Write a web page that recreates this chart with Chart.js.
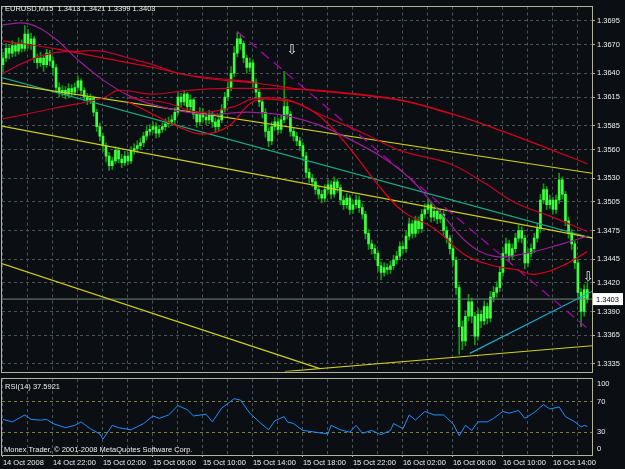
<!DOCTYPE html>
<html><head><meta charset="utf-8">
<script src="https://cdn.jsdelivr.net/npm/chart.js@4.4.0/dist/chart.umd.min.js"></script>
<style>
html,body{margin:0;padding:0;background:#0b0f13;width:625px;height:469px;overflow:hidden;font-family:"Liberation Sans",Arial,sans-serif}
#wrap{position:relative;width:625px;height:469px}
#c1{position:absolute;left:0;top:0}
#c2{position:absolute;left:0;top:378px}
.lbl{position:absolute;color:#ececec;font-size:7.5px;line-height:9px;white-space:pre}
</style></head><body>
<div id="wrap">
<canvas id="c1" width="625" height="378"></canvas>
<canvas id="c2" width="625" height="91"></canvas>
<div class="lbl" id="title" style="left:5px;top:4px"></div>
<div class="lbl" id="rsiTitle" style="left:5px;top:382px"></div>
<div class="lbl" id="copy" style="left:4px;top:445px">Monex Trader, © 2001-2008 MetaQuotes Software Corp.</div>
</div>
<script>
// ---------------- DATA ----------------
const symbol = "EURUSD,M15";
const timeLabels = ["14 Oct 2008","14 Oct 22:00","15 Oct 02:00","15 Oct 06:00","15 Oct 10:00","15 Oct 14:00","15 Oct 18:00","15 Oct 22:00","16 Oct 02:00","16 Oct 06:00","16 Oct 10:00","16 Oct 14:00"];
const priceTicks = [1.3335,1.3365,1.3390,1.3420,1.3445,1.3475,1.3505,1.3530,1.3560,1.3585,1.3615,1.3640,1.3670,1.3695];
const rsiLevels = [0,30,70,100];

const opens = [
1.3649,1.3656,1.3666,1.3661,1.3669,1.3663,1.3671,1.3666,1.3681,1.3671,
1.3676,1.3656,1.3651,1.3656,1.3649,1.3661,1.3653,1.3646,1.3625,1.3620,
1.3622,1.3618,1.3624,1.3620,1.3625,1.3632,1.3622,1.3615,1.3612,1.3614,
1.3599,1.3584,1.3574,1.3564,1.3553,1.3543,1.3548,1.3559,1.3550,1.3546,
1.3553,1.3548,1.3559,1.3561,1.3564,1.3567,1.3574,1.3579,1.3581,1.3584,
1.3577,1.3581,1.3584,1.3587,1.3589,1.3591,1.3599,1.3615,1.3610,1.3618,
1.3605,1.3612,1.3597,1.3589,1.3599,1.3594,1.3591,1.3597,1.3589,1.3584,
1.3591,1.3602,1.3615,1.3625,1.3640,1.3661,1.3676,1.3671,1.3656,1.3646,
1.3651,1.3630,1.3620,1.3610,1.3599,1.3579,1.3569,1.3584,1.3589,1.3581,
1.3591,1.3605,1.3597,1.3579,1.3574,1.3569,1.3564,1.3553,1.3536,1.3530,
1.3526,1.3518,1.3513,1.3509,1.3518,1.3523,1.3513,1.3526,1.3520,1.3507,
1.3502,1.3509,1.3497,1.3502,1.3507,1.3499,1.3492,1.3472,1.3461,1.3456,
1.3451,1.3438,1.3431,1.3436,1.3434,1.3438,1.3444,1.3448,1.3458,1.3456,
1.3469,1.3482,1.3472,1.3485,1.3477,1.3492,1.3497,1.3502,1.3489,1.3495,
1.3487,1.3492,1.3475,1.3467,1.3456,1.3444,1.3415,1.3374,1.3359,1.3385,
1.3400,1.3385,1.3364,1.3387,1.3380,1.3395,1.3383,1.3405,1.3410,1.3415,
1.3431,1.3451,1.3461,1.3448,1.3456,1.3467,1.3475,1.3467,1.3441,1.3451,
1.3456,1.3467,1.3477,1.3507,1.3518,1.3502,1.3507,1.3497,1.3507,1.3528,
1.3513,1.3485,1.3472,1.3461,1.3441,1.3410,1.3390,1.3413];
const highs = [
1.3662,1.3671,1.3670,1.3674,1.3672,1.3677,1.3675,1.3690,1.3686,1.3682,
1.3679,1.3660,1.3662,1.3659,1.3665,1.3664,1.3657,1.3649,1.3630,1.3627,
1.3626,1.3629,1.3628,1.3630,1.3637,1.3634,1.3625,1.3619,1.3618,1.3616,
1.3602,1.3588,1.3577,1.3567,1.3557,1.3552,1.3563,1.3562,1.3555,1.3558,
1.3557,1.3563,1.3566,1.3569,1.3572,1.3578,1.3584,1.3586,1.3589,1.3588,
1.3585,1.3588,1.3592,1.3594,1.3596,1.3604,1.3621,1.3619,1.3622,1.3620,
1.3617,1.3614,1.3600,1.3604,1.3603,1.3598,1.3601,1.3600,1.3593,1.3596,
1.3607,1.3620,1.3631,1.3647,1.3668,1.3683,1.3680,1.3674,1.3659,1.3656,
1.3654,1.3634,1.3624,1.3613,1.3603,1.3583,1.3589,1.3594,1.3593,1.3596,
1.3642,1.3610,1.3600,1.3583,1.3578,1.3573,1.3567,1.3557,1.3540,1.3534,
1.3529,1.3522,1.3517,1.3523,1.3528,1.3527,1.3531,1.3529,1.3523,1.3511,
1.3514,1.3512,1.3507,1.3512,1.3511,1.3503,1.3495,1.3476,1.3465,1.3460,
1.3454,1.3442,1.3441,1.3440,1.3443,1.3449,1.3453,1.3463,1.3462,1.3474,
1.3488,1.3486,1.3490,1.3489,1.3497,1.3503,1.3508,1.3505,1.3500,1.3499,
1.3497,1.3495,1.3479,1.3470,1.3459,1.3447,1.3418,1.3380,1.3391,1.3408,
1.3404,1.3389,1.3393,1.3391,1.3401,1.3399,1.3411,1.3416,1.3421,1.3437,
1.3457,1.3467,1.3465,1.3461,1.3472,1.3481,1.3479,1.3470,1.3456,1.3461,
1.3472,1.3483,1.3513,1.3524,1.3521,1.3512,1.3510,1.3512,1.3535,1.3531,
1.3516,1.3489,1.3476,1.3464,1.3444,1.3414,1.3418,1.3421];
const lows = [
1.3641,1.3652,1.3655,1.3657,1.3658,1.3660,1.3662,1.3663,1.3666,1.3665,
1.3651,1.3645,1.3647,1.3642,1.3646,1.3648,1.3638,1.3620,1.3615,1.3616,
1.3613,1.3614,1.3616,1.3617,1.3622,1.3618,1.3611,1.3607,1.3608,1.3595,
1.3579,1.3569,1.3558,1.3547,1.3538,1.3539,1.3545,1.3546,1.3541,1.3543,
1.3544,1.3545,1.3555,1.3557,1.3560,1.3563,1.3570,1.3575,1.3577,1.3572,
1.3573,1.3578,1.3580,1.3583,1.3585,1.3587,1.3596,1.3605,1.3606,1.3600,
1.3601,1.3592,1.3583,1.3585,1.3589,1.3586,1.3587,1.3583,1.3578,1.3580,
1.3588,1.3599,1.3611,1.3622,1.3636,1.3657,1.3665,1.3651,1.3640,1.3642,
1.3625,1.3614,1.3605,1.3593,1.3573,1.3563,1.3565,1.3580,1.3576,1.3577,
1.3588,1.3592,1.3574,1.3569,1.3564,1.3559,1.3548,1.3530,1.3525,1.3521,
1.3513,1.3508,1.3504,1.3505,1.3514,1.3508,1.3510,1.3515,1.3502,1.3497,
1.3498,1.3492,1.3493,1.3498,1.3494,1.3487,1.3466,1.3455,1.3450,1.3445,
1.3432,1.3423,1.3427,1.3429,1.3430,1.3434,1.3440,1.3445,1.3451,1.3452,
1.3465,1.3467,1.3468,1.3472,1.3473,1.3488,1.3493,1.3484,1.3485,1.3482,
1.3483,1.3470,1.3462,1.3450,1.3438,1.3408,1.3345,1.3350,1.3354,1.3380,
1.3378,1.3355,1.3360,1.3373,1.3376,1.3377,1.3379,1.3400,1.3405,1.3411,
1.3427,1.3447,1.3443,1.3444,1.3452,1.3463,1.3462,1.3435,1.3437,1.3447,
1.3452,1.3463,1.3473,1.3503,1.3497,1.3498,1.3492,1.3493,1.3503,1.3508,
1.3480,1.3467,1.3455,1.3435,1.3403,1.3374,1.3385,1.3399];
const closes = [
1.3656,1.3666,1.3661,1.3669,1.3663,1.3671,1.3666,1.3681,1.3671,1.3676,
1.3656,1.3651,1.3656,1.3649,1.3661,1.3653,1.3646,1.3625,1.3620,1.3622,
1.3618,1.3624,1.3620,1.3625,1.3632,1.3622,1.3615,1.3612,1.3614,1.3599,
1.3584,1.3574,1.3564,1.3553,1.3543,1.3548,1.3559,1.3550,1.3546,1.3553,
1.3548,1.3559,1.3561,1.3564,1.3567,1.3574,1.3579,1.3581,1.3584,1.3577,
1.3581,1.3584,1.3587,1.3589,1.3591,1.3599,1.3615,1.3610,1.3618,1.3605,
1.3612,1.3597,1.3589,1.3599,1.3594,1.3591,1.3597,1.3589,1.3584,1.3591,
1.3602,1.3615,1.3625,1.3640,1.3661,1.3676,1.3671,1.3656,1.3646,1.3651,
1.3630,1.3620,1.3610,1.3599,1.3579,1.3569,1.3584,1.3589,1.3581,1.3591,
1.3605,1.3597,1.3579,1.3574,1.3569,1.3564,1.3553,1.3536,1.3530,1.3526,
1.3518,1.3513,1.3509,1.3518,1.3523,1.3513,1.3526,1.3520,1.3507,1.3502,
1.3509,1.3497,1.3502,1.3507,1.3499,1.3492,1.3472,1.3461,1.3456,1.3451,
1.3438,1.3431,1.3436,1.3434,1.3438,1.3444,1.3448,1.3458,1.3456,1.3469,
1.3482,1.3472,1.3485,1.3477,1.3492,1.3497,1.3502,1.3489,1.3495,1.3487,
1.3492,1.3475,1.3467,1.3456,1.3444,1.3415,1.3374,1.3359,1.3385,1.3400,
1.3385,1.3364,1.3387,1.3380,1.3395,1.3383,1.3405,1.3410,1.3415,1.3431,
1.3451,1.3461,1.3448,1.3456,1.3467,1.3475,1.3467,1.3441,1.3451,1.3456,
1.3467,1.3477,1.3507,1.3518,1.3502,1.3507,1.3497,1.3507,1.3528,1.3513,
1.3485,1.3472,1.3461,1.3441,1.3410,1.3390,1.3413,1.3403];

// moving-average curves (bar index -> price)
const maRedIdx   = [0,16,32,48,64,80,96,112,128,144,160,176,187];
const maRedVals  = [1.3674,1.3666,1.3656,1.3646,1.3635,1.3630,1.3623,1.3618,1.3611,1.3597,1.3579,1.3559,1.3545];
const maCrimIdx  = [0,8,16,24,32,40,48,56,64,80];
const maCrimVals = [1.3640,1.3653,1.3661,1.3663,1.3663,1.3656,1.3649,1.3640,1.3636,1.3631];
const maLowIdx   = [0,16,32,37,48,59,72,95,108,127,144];
const maLowVals  = [1.3592,1.3603,1.3614,1.3622,1.3618,1.3622,1.3624,1.3623,1.3620,1.3612,1.3597];
const maMidIdx   = [40,52,63,74,80,91,100,116,127,143,154,164,175,187];
const maMidVals  = [1.3614,1.3609,1.3599,1.3605,1.3613,1.3612,1.3599,1.3576,1.3559,1.3545,1.3525,1.3504,1.3490,1.3474];
const maPurpIdx  = [0,8,16,24,32,40,48,64,80,96,112,128,141,149,157,166,179,187];
const maPurpVals = [1.3691,1.3692,1.3678,1.3654,1.3633,1.3617,1.3607,1.3597,1.3599,1.3591,1.3569,1.3536,1.3490,1.3461,1.3448,1.3450,1.3461,1.3469];
const maFastIdx  = [40,48,56,64,72,80,88,96,104,112,120,128,138,148,157,164,170,179,187];
const maFastVals = [1.3610,1.3597,1.3584,1.3576,1.3584,1.3610,1.3612,1.3606,1.3587,1.3557,1.3523,1.3495,1.3477,1.3449,1.3438,1.3434,1.3429,1.3438,1.3453];

// trend lines: [barIndex, price] pairs
const trendUpper   = [[-0.96,1.3630],[188.5,1.3535]];
const trendLower   = [[-0.96,1.3585],[188.8,1.3467]];
const channelTeal  = [[-0.96,1.3636],[188.5,1.3467]];
const supportLeft  = [[-0.96,1.3441],[101.4,1.3330]];
const supportBase  = [[90.2,1.3327],[188.5,1.3354]];
const riseCyan     = [[149.4,1.3346],[188.5,1.3411]];
const dashMagenta  = [[74.9,1.3684],[187.8,1.3370]];

const arrowIdx   = [92.5,187.3];
const arrowPrice = [1.3664,1.3425];

const rsiIdx  = [0,3,7,9,12,14,16,20,23,25,28,31,32,35,37,41,45,48,50,53,56,59,61,65,67,70,74,76,79,82,85,87,90,91,93,96,100,104,105,108,111,113,115,118,121,124,125,128,130,132,135,138,141,144,146,148,150,152,155,157,160,162,165,167,170,173,175,178,180,183,185,186,187];
const rsiVals = [46.8,43.6,52.7,46.8,45.9,46.8,41.4,35.9,39,43.6,34.5,27.7,20.9,39,35.9,33.2,41.4,51.4,48.2,52.7,65,59.5,51.4,53.6,43.6,61.8,74.1,72.3,55,43.6,33.2,45,50.5,43.6,41.4,32.3,30,27.7,39,33.2,30,39,28.6,32.3,26.8,32.3,41.4,34.5,52.7,45.9,57.3,52.7,52.7,41.4,25.5,39,32.3,43.6,43.6,48.2,57.3,55,58.6,48.2,55.9,66.4,60.5,63.2,50.5,43.6,36.8,39,37.5921];

// ---------------- CHART ----------------
const N = closes.length;
const X_MIN = -0.3, X_MAX = 188.5;
const Y_MIN = 1.3327, Y_MAX = 1.3710;
const gridIdx = []; for (let i = 0; i <= 184; i += 8) gridIdx.push(i);
const FONT = '"Liberation Sans", Arial, sans-serif';
const GRID = '#4a5555';
const FRAME = '#b3b39a';
const TXT = '#ececec';
Chart.defaults.font.family = FONT;

const last = N - 1;
document.getElementById('title').textContent =
  symbol + '  ' + opens[last].toFixed(4) + ' ' + highs[last].toFixed(4) + ' ' + lows[last].toFixed(4) + ' ' + closes[last].toFixed(4);
document.getElementById('rsiTitle').textContent = 'RSI(14) ' + rsiVals[rsiVals.length-1].toFixed(4);

const pts = (idx, vals) => idx.map((x, k) => ({x, y: vals[k]}));
const seg = a => a.map(p => ({x: p[0], y: p[1]}));
const lineDs = (data, color, extra) => Object.assign({type:'line', data, borderColor: color, borderWidth: 1.2, pointRadius: 0, fill: false, tension: 0, order: 2}, extra || {});

const framePlugin = {
  id: 'frame',
  afterDraw(chart) {
    const a = chart.chartArea, ctx = chart.ctx;
    ctx.save(); ctx.strokeStyle = FRAME; ctx.lineWidth = 1;
    ctx.strokeRect(Math.round(a.left) - 0.5, Math.round(a.top) - 0.5, Math.round(a.right - a.left) + 1, Math.round(a.bottom - a.top) + 1);
    ctx.restore();
  }
};

const markerPlugin = {
  id: 'markers',
  afterDatasetsDraw(chart) {
    const ctx = chart.ctx, xs = chart.scales.x, ys = chart.scales.y, a = chart.chartArea;
    ctx.save();
    ctx.fillStyle = '#e6e6e6'; ctx.font = '13px "DejaVu Sans"'; ctx.textAlign = 'center'; ctx.textBaseline = 'middle';
    arrowIdx.forEach((ix, k) => ctx.fillText('\u21E9', xs.getPixelForValue(ix), ys.getPixelForValue(arrowPrice[k])));
    const py = ys.getPixelForValue(closes[last]);
    ctx.fillStyle = '#ffffff'; ctx.fillRect(a.right + 1, py - 6, 30, 12);
    ctx.fillStyle = '#000000'; ctx.font = '7.5px ' + FONT; ctx.textAlign = 'left';
    ctx.fillText(closes[last].toFixed(4), a.right + 4, py + 0.5);
    ctx.restore();
  }
};

const bull = '#3dff3d', bear = '#3dff3d';
new Chart(document.getElementById('c1'), {
  type: 'bar',
  data: { datasets: [
    lineDs([{x:X_MIN,y:closes[last]},{x:X_MAX,y:closes[last]}], '#6f8a78', {borderWidth:1, order:6}),
    lineDs(seg(trendUpper), '#cfcf1a', {order:5}),
    lineDs(seg(trendLower), '#cfcf1a', {order:5}),
    lineDs(seg(channelTeal), '#18a884', {order:5}),
    lineDs(seg(supportLeft), '#cfcf1a', {order:5}),
    lineDs(seg(supportBase), '#cfcf1a', {order:5}),
    lineDs(seg(riseCyan), '#21a9c8', {order:5}),
    lineDs(seg(dashMagenta), '#b000b0', {borderDash:[10,6], order:4}),
    lineDs(pts(maRedIdx, maRedVals), '#d4001c', {tension:0.4, order:3}),
    lineDs(pts(maCrimIdx, maCrimVals), '#c2002e', {tension:0.4, order:3}),
    lineDs(pts(maLowIdx, maLowVals), '#c8001e', {tension:0.4, order:3}),
    lineDs(pts(maMidIdx, maMidVals), '#c60028', {tension:0.4, order:3}),
    lineDs(pts(maPurpIdx, maPurpVals), '#9a1e96', {tension:0.4, order:3}),
    lineDs(pts(maFastIdx, maFastVals), '#e0001a', {tension:0.4, order:3}),
    { type:'bar', data: closes.map((c,i)=>({x:i, y:[lows[i], highs[i]]})), backgroundColor:'#0e9a0e', barThickness:1, grouped:false, order:10 },
    { type:'bar', data: closes.map((c,i)=>({x:i, y:[opens[i], c]})), backgroundColor: closes.map((c,i)=> c>=opens[i]?bull:bear), barThickness:2, minBarLength:1, grouped:false, order:9 }
  ]},
  options: {
    responsive:false, animation:false,
    layout:{padding:{left:2, top:2, right:0, bottom:2}},
    plugins:{legend:{display:false}, tooltip:{enabled:false}},
    scales:{
      x:{type:'linear', min:X_MIN, max:X_MAX, offset:false, bounds:'data',
         grid:{offset:false, color:GRID, drawTicks:false}, border:{display:false, dash:[3,3]},
         ticks:{display:false},
         afterBuildTicks:s=>{ s.ticks = gridIdx.map(v=>({value:v})); },
         afterFit:s=>{ s.height = 0; }},
      y:{type:'linear', position:'right', min:Y_MIN, max:Y_MAX, beginAtZero:false, bounds:'data',
         grid:{color:GRID, drawTicks:true, tickLength:3, tickColor:FRAME, tickBorderDash:[]}, border:{display:false, dash:[3,3]},
         ticks:{color:TXT, font:{size:7.5}, padding:2, callback:v=>Number(v).toFixed(4)},
         afterBuildTicks:s=>{ s.ticks = priceTicks.map(v=>({value:v})); },
         afterFit:s=>{ s.width = 33; }}
    }
  },
  plugins:[framePlugin, markerPlugin]
});

const rsiLabelPlugin = {
  id:'rsiLabels',
  afterDraw(chart){
    const ctx = chart.ctx, ys = chart.scales.y, a = chart.chartArea;
    ctx.save(); ctx.fillStyle = TXT; ctx.font = '7.5px ' + FONT; ctx.textAlign = 'left'; ctx.textBaseline = 'middle';
    rsiLevels.forEach(v=>{
      let y = ys.getPixelForValue(v);
      y = Math.max(a.top + 5, Math.min(a.bottom - 6, y));
      ctx.fillText(String(v), a.right + 5, y);
    });
    ctx.restore();
  }
};

new Chart(document.getElementById('c2'), {
  type:'line',
  data:{ datasets:[ { data: pts(rsiIdx, rsiVals), borderColor:'#1e8fff', borderWidth:1, pointRadius:0, tension:0, fill:false } ]},
  options:{
    responsive:false, animation:false,
    layout:{padding:{left:2, top:1, right:0, bottom:0}},
    plugins:{legend:{display:false}, tooltip:{enabled:false}},
    scales:{
      x:{type:'linear', min:X_MIN, max:X_MAX, offset:false, bounds:'data',
         grid:{offset:false, color:GRID, drawTicks:true, tickLength:2,
               tickColor: c => (c.tick && c.tick.value % 16 === 0) ? FRAME : 'rgba(0,0,0,0)', tickBorderDash:[]},
         border:{display:false, dash:[3,3]},
         ticks:{color:TXT, font:{size:7.5}, padding:1, maxRotation:0, autoSkip:false, align:'start',
                callback:v=> (v % 16 === 0) ? timeLabels[v/16] : ''},
         afterBuildTicks:s=>{ s.ticks = gridIdx.map(v=>({value:v})); },
         afterFit:s=>{ s.height = 14; }},
      y:{type:'linear', position:'right', min:0, max:100, bounds:'data',
         grid:{color: c => (c.tick && (c.tick.value===30 || c.tick.value===70)) ? '#7d7d42' : 'rgba(0,0,0,0)', drawTicks:false},
         border:{display:false, dash:[3,3]},
         ticks:{display:false},
         afterBuildTicks:s=>{ s.ticks = rsiLevels.map(v=>({value:v})); },
         afterFit:s=>{ s.width = 33; }}
    }
  },
  plugins:[framePlugin, rsiLabelPlugin]
});
</script>
</body></html>
